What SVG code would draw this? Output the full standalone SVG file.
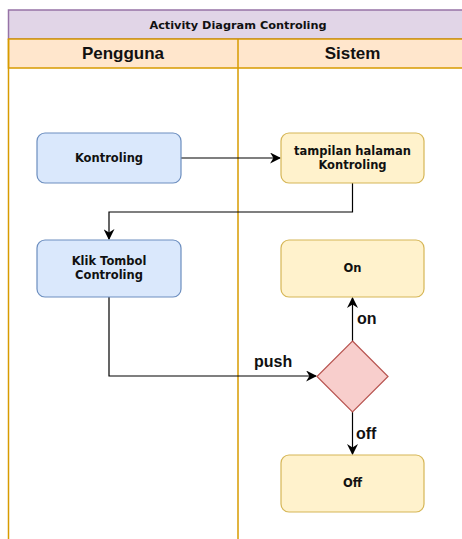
<svg xmlns="http://www.w3.org/2000/svg" width="462" height="539" viewBox="0 0 462 539">
  <defs>
    <marker id="arrow" viewBox="0 0 10 10" refX="9" refY="5" markerWidth="11" markerHeight="11" markerUnits="userSpaceOnUse" orient="auto">
      <path d="M0,0 L10,5 L0,10 L3,5 Z" fill="#000"/>
    </marker>
  </defs>
  <style>
    .lane { stroke: #d79b00; stroke-width: 1.5; }
    .act-blue { fill: #dae8fc; stroke: #6c8ebf; stroke-width: 1.2; }
    .act-yellow { fill: #fff2cc; stroke: #d6b656; stroke-width: 1.2; }
    .decision { fill: #f8cecc; stroke: #b85450; stroke-width: 1.2; }
    .box-label { font-family: "DejaVu Sans", Verdana, sans-serif; font-weight: bold; font-size: 11.5px; fill: #111; text-anchor: middle; }
    .title-label { font-family: "DejaVu Sans", Verdana, sans-serif; font-weight: bold; font-size: 11.3px; fill: #111; text-anchor: middle; }
    .head-label { font-family: "Liberation Sans", Arial, sans-serif; font-weight: bold; font-size: 17px; fill: #111; text-anchor: middle; }
    .edge-label { font-family: "Liberation Sans", Arial, sans-serif; font-weight: bold; font-size: 16px; fill: #111; }
    .edge { fill: none; stroke: #000; stroke-width: 1.2; }
  </style>

  <!-- pool frame and swimlanes -->
  <g id="pool">
    <rect x="8.5" y="10" width="462" height="29" fill="#e1d5e7" stroke="#9673a6" stroke-width="1.5"/>
    <text x="238" y="29" class="title-label">Activity Diagram Controling</text>
    <rect x="8.5" y="39" width="462" height="29" fill="#ffe6cc" class="lane"/>
    <line x1="8.5" y1="39" x2="8.5" y2="539" class="lane"/>
    <line x1="238" y1="39" x2="238" y2="539" class="lane"/>
    <text x="123" y="59" class="head-label">Pengguna</text>
    <text x="352.5" y="59" class="head-label">Sistem</text>
  </g>

  <!-- connectors -->
  <g id="connectors">
    <path class="edge" d="M181,158 L280,158" marker-end="url(#arrow)"/>
    <path class="edge" d="M352.5,183 L352.5,212 L109,212 L109,239" marker-end="url(#arrow)"/>
    <path class="edge" d="M109,297 L109,376 L316,376" marker-end="url(#arrow)"/>
    <path class="edge" d="M352.5,341 L352.5,298" marker-end="url(#arrow)"/>
    <path class="edge" d="M352.5,412 L352.5,454" marker-end="url(#arrow)"/>
    <text x="254" y="367" class="edge-label">push</text>
    <text x="357" y="324" class="edge-label">on</text>
    <text x="356" y="439" class="edge-label">off</text>
  </g>

  <g id="kontroling">
    <rect x="37" y="133" width="144" height="50" rx="8" class="act-blue"/>
    <text x="109" y="162" class="box-label">Kontroling</text>
  </g>

  <g id="tampilan-halaman">
    <rect x="281" y="133" width="143" height="50" rx="8" class="act-yellow"/>
    <text x="352.5" y="155" class="box-label">tampilan halaman</text>
    <text x="352.5" y="169" class="box-label">Kontroling</text>
  </g>

  <g id="klik-tombol">
    <rect x="37" y="240" width="144" height="57" rx="8" class="act-blue"/>
    <text x="109" y="265" class="box-label">Klik Tombol</text>
    <text x="109" y="279" class="box-label">Controling</text>
  </g>

  <g id="on">
    <rect x="281" y="240" width="143" height="57" rx="8" class="act-yellow"/>
    <text x="352.5" y="272" class="box-label">On</text>
  </g>

  <g id="decision">
    <path d="M352.5,341 L388,376.5 L352.5,412 L317,376.5 Z" class="decision"/>
  </g>

  <g id="off">
    <rect x="281" y="455" width="143" height="57" rx="8" class="act-yellow"/>
    <text x="352.5" y="487" class="box-label">Off</text>
  </g>
</svg>
